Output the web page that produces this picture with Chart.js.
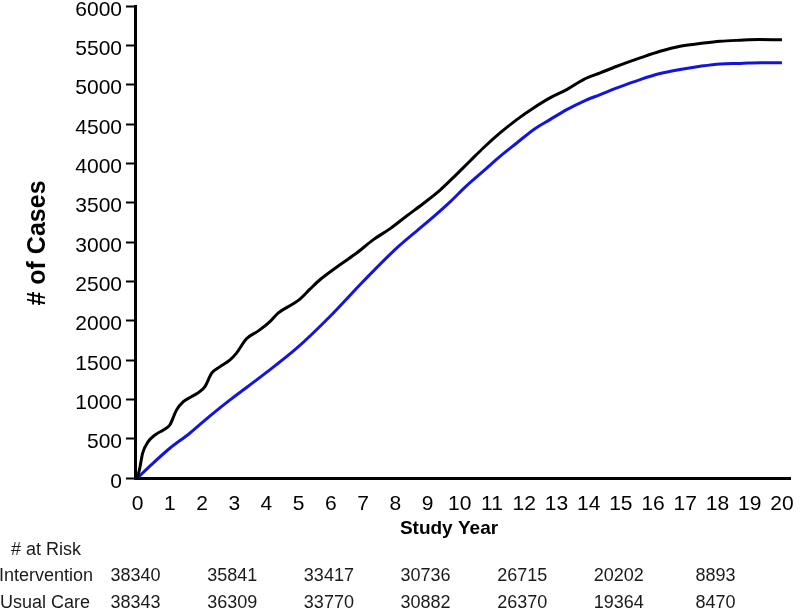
<!DOCTYPE html>
<html>
<head>
<meta charset="utf-8">
<script src="https://cdn.jsdelivr.net/npm/chart.js@4/dist/chart.umd.min.js"></script>
<style>
  html, body { margin: 0; padding: 0; background: #fff; }
  #wrap { width: 800px; height: 611px; position: relative; }
</style>
</head>
<body>
<div id="wrap"><canvas id="c" width="800" height="611"></canvas></div>
<script>
// ---- Data ----
const xTickValues = [0,1,2,3,4,5,6,7,8,9,10,11,12,13,14,15,16,17,18,19,20];
const yTickValues = [0,500,1000,1500,2000,2500,3000,3500,4000,4500,5000,5500,6000];

const blackYears = [0,0.08,0.155,0.33,0.54,0.8,1.0,1.21,1.42,1.68,1.93,2.09,2.3,2.56,2.87,3.07,3.38,3.75,4.1,4.37,4.83,5.04,5.35,5.66,6.28,6.8,7.32,7.84,8.35,8.87,9.39,9.9,10.32,10.73,11.25,11.77,12.29,12.8,13.32,13.84,14.36,14.88,15.6,16.22,16.84,17.46,18.08,18.7,19.3,20];
const blackCases = [0,150,314,462,547,611,674,865,971,1035,1098,1162,1332,1416,1502,1587,1770,1870,1985,2100,2215,2275,2400,2520,2710,2860,3030,3170,3330,3490,3660,3860,4030,4195,4386,4556,4704,4832,4937,5065,5150,5234,5340,5425,5489,5523,5552,5565,5573,5572];

const blueYears = [0,0.38,1.0,1.62,2.25,2.87,3.9,4.94,5.97,7.0,8.04,9.08,9.7,10.2,10.73,11.25,11.77,12.29,12.8,13.32,13.84,14.36,14.88,15.6,16.22,16.84,17.46,18.08,18.7,19.33,20];
const blueCases = [0,150,378,569,790,993,1311,1650,2053,2498,2923,3283,3510,3710,3900,4089,4259,4428,4556,4683,4789,4874,4959,5065,5141,5192,5234,5264,5270,5280,5280];

const atRiskYears = [0,3,6,9,12,15,18];
const atRiskGroups = ["Intervention", "Usual Care"];
const interventionAtRisk = [38340,35841,33417,30736,26715,20202,8893];
const usualCareAtRisk = [38343,36309,33770,30882,26370,19364,8470];

const xTitle = "Study Year";
const yTitle = "# of Cases";
const atRiskTitle = "# at Risk";

// ---- Build datasets ----
const toPoints = (xs, ys) => xs.map((x, i) => ({x: x, y: ys[i]}));

const extraText = {
  id: 'extraText',
  afterDraw(chart) {
    const ctx = chart.ctx;
    const xs = chart.scales.x;
    ctx.save();
    ctx.fillStyle = '#000';
    ctx.font = 'bold 25px "Liberation Sans", Arial, sans-serif';
    ctx.textAlign = 'center';
    ctx.textBaseline = 'middle';
    ctx.translate(38, 243);
    ctx.rotate(-Math.PI / 2);
    ctx.fillText(yTitle, 0, 0);
    ctx.restore();

    ctx.save();
    ctx.fillStyle = '#000';
    ctx.font = 'bold 19px "Liberation Sans", Arial, sans-serif';
    ctx.textAlign = 'center';
    ctx.textBaseline = 'middle';
    ctx.fillText(xTitle, 449, 529);

    ctx.fillStyle = '#1a1a1a';
    ctx.font = '18px "Liberation Sans", Arial, sans-serif';
    ctx.textAlign = 'left';
    ctx.fillText(atRiskTitle, 11, 550);
    ctx.fillText(atRiskGroups[0], -1, 576);
    ctx.fillText(atRiskGroups[1], 0, 603);
    ctx.textAlign = 'center';
    atRiskYears.forEach((yr, i) => {
      const px = xs.getPixelForValue(yr) - 2;
      ctx.fillText(String(interventionAtRisk[i]), px, 576);
      ctx.fillText(String(usualCareAtRisk[i]), px, 603);
    });
    ctx.restore();
  }
};

new Chart(document.getElementById('c'), {
  type: 'line',
  data: {
    datasets: [
      {
        label: 'Black',
        data: toPoints(blackYears, blackCases),
        borderColor: '#000000',
        borderWidth: 3,
        pointRadius: 0,
        cubicInterpolationMode: 'monotone',
        fill: false
      },
      {
        label: 'Blue',
        data: toPoints(blueYears, blueCases),
        borderColor: '#1414e0',
        borderWidth: 3,
        pointRadius: 0,
        cubicInterpolationMode: 'monotone',
        fill: false
      }
    ]
  },
  options: {
    responsive: false,
    animation: false,
    devicePixelRatio: 1,
    layout: { padding: { left: 0, top: 6, right: 10, bottom: 0 } },
    plugins: { legend: { display: false }, tooltip: { enabled: false } },
    scales: {
      x: {
        type: 'linear',
        min: -0.08,
        max: 20.25,
        afterBuildTicks: s => { s.ticks = xTickValues.map(v => ({value: v})); },
        afterFit: s => { s.height = 133; s.paddingLeft = 0; s.paddingRight = 0; },
        grid: { drawOnChartArea: false, drawTicks: false, color: '#000' },
        border: { display: true, color: '#000', width: 3 },
        ticks: {
          color: '#000',
          font: { family: '"Liberation Sans", Arial, sans-serif', size: 21 },
          padding: 14,
          maxRotation: 0,
          autoSkip: false,
          callback: v => String(v)
        }
      },
      y: {
        type: 'linear',
        min: 0,
        max: 6000,
        afterBuildTicks: s => { s.ticks = yTickValues.map(v => ({value: v})); },
        afterFit: s => { s.width = 135; s.paddingTop = 0; s.paddingBottom = 0; },
        grid: { drawOnChartArea: false, drawTicks: true, tickLength: 9, tickWidth: 2, tickColor: '#000', color: '#000' },
        border: { display: true, color: '#000', width: 3 },
        ticks: {
          color: '#000',
          font: { family: '"Liberation Sans", Arial, sans-serif', size: 21 },
          padding: 4,
          labelOffset: 4,
          autoSkip: false,
          callback: v => String(v)
        }
      }
    }
  },
  plugins: [extraText]
});
</script>
</body>
</html>
